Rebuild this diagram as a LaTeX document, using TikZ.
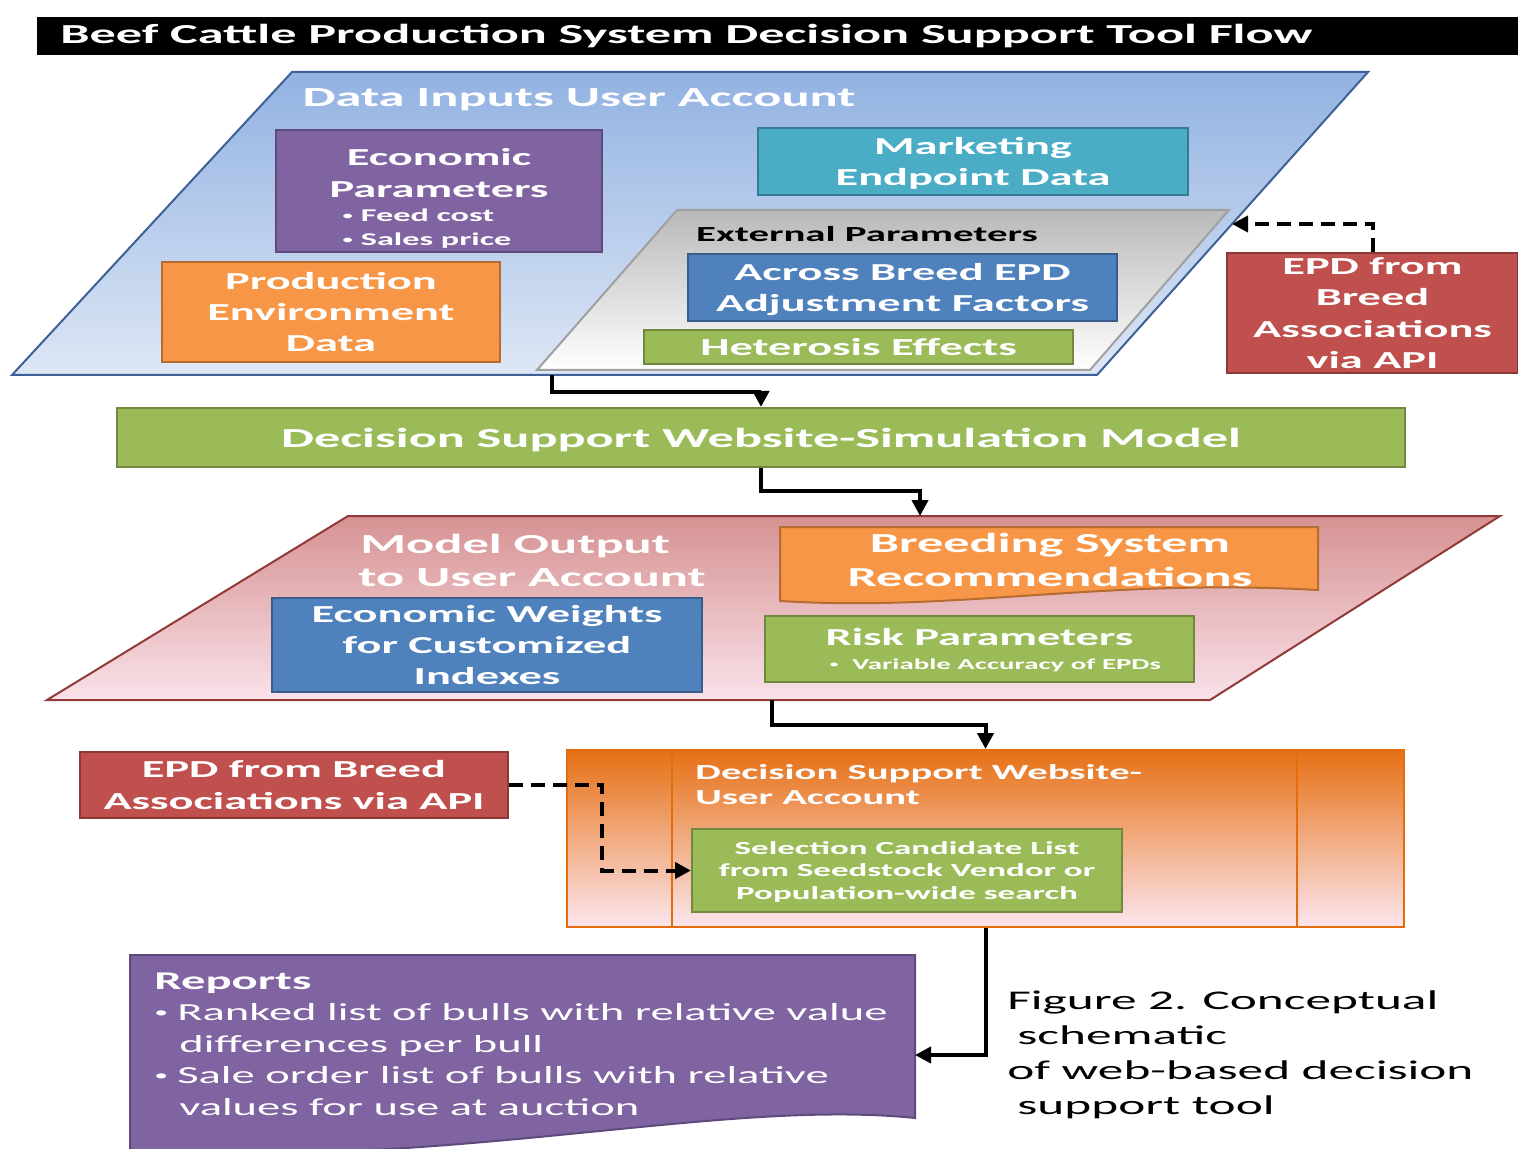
\documentclass[tikz,border=0pt]{standalone}
\usepackage{fontspec}
\setmainfont{Carlito}[FakeStretch=1.9]
\usepackage{tikz}
\usetikzlibrary{arrows.meta,calc}
\definecolor{inTop}{RGB}{146,178,226}
\definecolor{inBot}{RGB}{222,231,245}
\definecolor{inLine}{RGB}{62,96,150}
\definecolor{exTop}{RGB}{185,185,185}
\definecolor{exLine}{RGB}{160,160,160}
\definecolor{outTop}{RGB}{214,146,146}
\definecolor{outBot}{RGB}{250,226,234}
\definecolor{outLine}{RGB}{145,58,56}
\definecolor{purp}{RGB}{128,100,162}
\definecolor{purpLine}{RGB}{94,74,124}
\definecolor{teal}{RGB}{75,172,198}
\definecolor{tealLine}{RGB}{52,124,145}
\definecolor{orng}{RGB}{247,150,70}
\definecolor{orngLine}{RGB}{182,108,48}
\definecolor{blu}{RGB}{79,129,189}
\definecolor{bluLine}{RGB}{56,93,138}
\definecolor{grn}{RGB}{155,187,89}
\definecolor{grnLine}{RGB}{113,137,63}
\definecolor{rd}{RGB}{192,80,77}
\definecolor{rdLine}{RGB}{140,56,54}
\definecolor{dsTop}{RGB}{230,112,20}
\definecolor{dsBot}{RGB}{252,230,238}
\definecolor{dsLine}{RGB}{228,108,10}
\newcommand{\setfs}[2]{\fontsize{#1}{#2}\selectfont}
\newcommand{\bul}{\raisebox{0.25ex}{\scalebox{0.6}{•}}}
\tikzset{
  box/.style={draw,line width=1pt,align=center,inner sep=0pt,text=white,text depth=-3pt,
    font=\setfs{12.2}{15.7}\bfseries},
  head/.style={align=center,inner sep=0pt,text=white,font=\setfs{13.8}{16.5}\bfseries},
  flow/.style={line width=2pt,-{Triangle[length=8pt,width=8pt]}},
  dflow/.style={flow,dash pattern=on 7pt off 4pt}
}

\begin{document}
\begin{tikzpicture}[x=0.5pt,y=-0.5pt]
  \useasboundingbox (0,0) rectangle (1518,1149);
  % title bar
  \fill[black] (37,17) rectangle (1518,55);
  \node[anchor=west,inner sep=0pt,text=white,font=\setfs{13.75}{16}\bfseries] (title) at (60,36)
    {Beef Cattle Production System Decision Support Tool Flow};

  % inputs
  \shadedraw[top color=inTop,bottom color=inBot,draw=inLine,line width=1pt]
    (292,72) -- (1368,72) -- (1097,375) -- (12,375) -- cycle;
  \coordinate (inR) at (1232,224);
  \coordinate (inB) at (552,375);
  \node[head] (inhead) at (579,100) {Data Inputs User Account};
  \node[box,text depth=0pt,fill=purp,draw=purpLine,minimum width=163pt,minimum height=61pt] (econ) at (439,191)
    {Economic\\Parameters\\[2.5pt]
     \hspace*{-12pt}{\setfs{9}{12}\bfseries\begin{tabular}{@{}l@{}}\bul\hspace{4pt}Feed cost\\\bul\hspace{4pt}Sales price\end{tabular}}};
  \node[box,fill=teal,draw=tealLine,minimum width=215pt,minimum height=33.5pt] (mkt) at (973,161.5)
    {Marketing\\Endpoint Data};
  \node[box,fill=orng,draw=orngLine,minimum width=169pt,minimum height=50pt] (prod) at (331,312)
    {Production\\Environment\\Data};
  \shadedraw[top color=exTop,bottom color=white,draw=exLine,line width=1pt]
    (677,210) -- (1229,210) -- (1090,370) -- (537,370) -- cycle;
  \node[inner sep=0pt,font=\setfs{10.75}{12}\bfseries] (exhead) at (867,234) {External Parameters};
  \node[box,fill=blu,draw=bluLine,minimum width=214.5pt,minimum height=33.5pt] (across) at (902.5,287.5)
    {Across Breed EPD\\Adjustment Factors};
  \node[box,fill=grn,draw=grnLine,minimum width=214.5pt,minimum height=17pt] (het) at (858.5,347)
    {Heterosis Effects};
  \node[box,fill=rd,draw=rdLine,minimum width=145.5pt,minimum height=60pt] (epdA) at (1372.5,313)
    {EPD from\\Breed\\Associations\\via API};

  % simulation model
  \node[box,fill=grn,draw=grnLine,minimum width=644pt,minimum height=29.5pt,
    font=\setfs{13.75}{16}\bfseries] (sim) at (761,437.5) {Decision Support Website-Simulation Model};

  % outputs
  \shadedraw[top color=outTop,bottom color=outBot,draw=outLine,line width=1pt]
    (348,516) -- (1500,516) -- (1210,700) -- (47,700) -- cycle;
  \coordinate (outT) at (920,516);
  \coordinate (outB) at (772,700);
  \node[head,anchor=west,align=left] (outhead) at (358,560) {\hspace*{1pt}Model Output\\to User Account};
  \filldraw[fill=orng,draw=orngLine,line width=1pt]
    (780,527) -- (1318,527) -- (1318,590) .. controls (1100,578) and (960,612) .. (780,601) -- cycle;
  \node[head,font=\setfs{13.75}{17}\bfseries] (breed) at (1050,560) {Breeding System\\Recommendations};
  \node[box,fill=blu,draw=bluLine,minimum width=215pt,minimum height=47pt] (wts) at (487,645)
    {Economic Weights\\for Customized\\Indexes};
  \node[box,fill=grn,draw=grnLine,minimum width=214.5pt,minimum height=33pt] (risk) at (979.5,649)
    {Risk Parameters\\[-4pt]{\setfs{7.6}{9}\bfseries\bul\hspace{7pt}Variable Accuracy of EPDs\hspace*{-16pt}}};

  % user account
  \node[draw=dsLine,line width=1pt,top color=dsTop,bottom color=dsBot,
    minimum width=418.5pt,minimum height=88.5pt,inner sep=0pt] (acct) at (985.5,838.5) {};
  \draw[dsLine,line width=1pt] (672,750) -- (672,927) (1297,750) -- (1297,927);
  \node[anchor=north west,align=left,inner sep=0pt,text=white,font=\setfs{10.7}{12.5}\bfseries]
    (accthead) at (695,764) {Decision Support Website-\\User Account};
  \node[box,fill=grn,draw=grnLine,minimum width=215pt,minimum height=41.5pt,
    font=\setfs{9.2}{11.2}\bfseries] (cand) at (907,870.5)
    {Selection Candidate List\\from Seedstock Vendor or\\Population-wide search};
  \node[box,fill=rd,draw=rdLine,minimum width=214pt,minimum height=33pt] (epdB) at (294,785)
    {EPD from Breed\\Associations via API};

  % reports
  \fill[purp] (130,955) -- (915,955) -- (915,1118)
    .. controls (720,1098) and (450,1170) .. (130,1150) -- cycle;
  \draw[purpLine,line width=1pt] (130,1150) -- (130,955) -- (915,955) -- (915,1118)
    .. controls (720,1098) and (450,1170) .. (130,1150);
  \coordinate (rep) at (915,1055);
  \node[anchor=north west,align=left,inner sep=0pt,text=white,font=\setfs{12.25}{15.8}]
    (reports) at (154,972)
    {{\setfs{12.8}{15.8}\bfseries Reports}\\
     \bul\hspace{4.5pt}Ranked list of bulls with relative value\\
     \hspace*{12.5pt}differences per bull\\
     \bul\hspace{4.5pt}Sale order list of bulls with relative\\
     \hspace*{12.5pt}values for use at auction};

  % caption
  \node[anchor=north west,align=left,inner sep=0pt,font=\setfs{13.5}{17.5}] (cap) at (1007,990)
    {Figure 2. Conceptual\\\hspace*{5pt}schematic\\of web-based decision\\\hspace*{5pt}support tool};

  % connectors
  \draw[flow] (inB) -- ++(0,17) -| (sim.north);
  \draw[flow] (sim.south) -- ++(0,23) -| (outT);
  \draw[flow] (outB) -- ++(0,25) -| (acct.north);
  \draw[flow] (acct.south) |- (rep);
  \draw[dflow] (epdA.north) |- (inR);
  \draw[dflow] (epdB.east) -- ++(93,0) |- (cand.west);
\end{tikzpicture}
\end{document}
